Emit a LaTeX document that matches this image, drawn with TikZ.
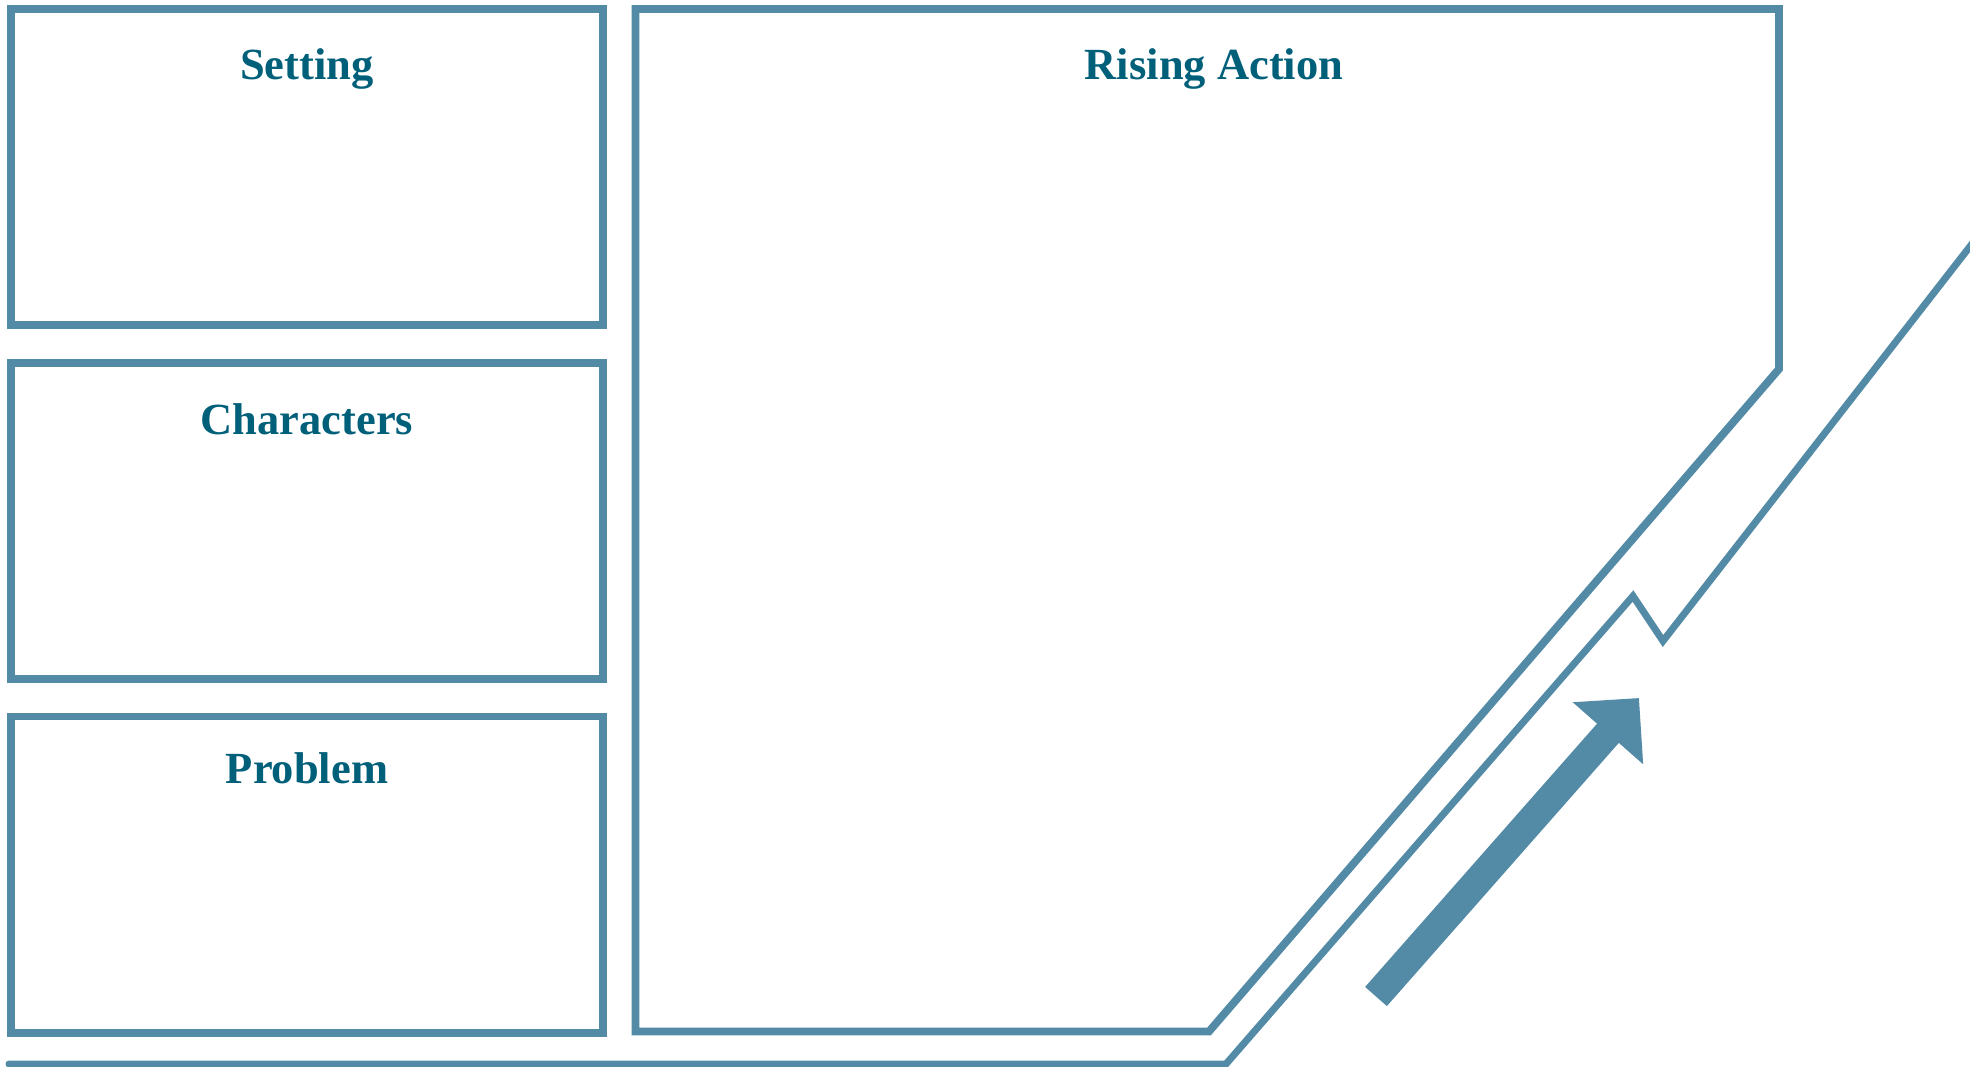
\documentclass[tikz,border=0pt]{standalone}
\usepackage{fontspec}
\setmainfont{Liberation Serif}
\usetikzlibrary{arrows.meta}
\definecolor{lineblue}{HTML}{538BA6}
\definecolor{textteal}{HTML}{005F79}
\tikzset{
  panel/.style={draw=lineblue, line width=7.8pt, line join=miter},
  track/.style={draw=lineblue, line width=7pt, line join=miter},
  title/.style={text=textteal, font=\fontsize{44.5}{50}\selectfont\bfseries, anchor=base, inner sep=0pt},
}
\begin{document}
\begin{tikzpicture}[x=1pt, y=-1pt]
\useasboundingbox (0,0) rectangle (1970,1067);
\clip (0,0) rectangle (1970,1067);
% left panels
\draw[panel] (11,9) rectangle (603,325);
\draw[panel] (11,363) rectangle (603,679);
\draw[panel] (11,716.5) rectangle (603,1033);
% rising action panel
\draw[panel] (635.5,9) -- (1779,9) -- (1779,369) -- (1209,1031.5) -- (635.5,1031.5) -- cycle;
% titles
\node[title] (setting) at (307,80) {Setting};
\node[title] (characters) at (307,434) {Characters};
\node[title] (problem) at (307,783) {Problem};
\node[title] (rising) at (1214,80) {Rising Action};
% bottom track line
\coordinate (t0) at (9,1064);
\coordinate (t1) at (1226,1064);
\coordinate (t2) at (1633,596);
\coordinate (t3) at (1663,641);
\coordinate (t4) at (2010,195);
\draw[track, line cap=round] (t0) -- (t1) -- (t2) -- (t3) -- (t4);
% big arrow
\coordinate (atail) at (1376,996.5);
\coordinate (atip) at (1639,698);
\draw[draw=lineblue, line width=29pt, -{Triangle[width=91pt,length=47pt]}] (atail) -- (atip);
\end{tikzpicture}
\end{document}
